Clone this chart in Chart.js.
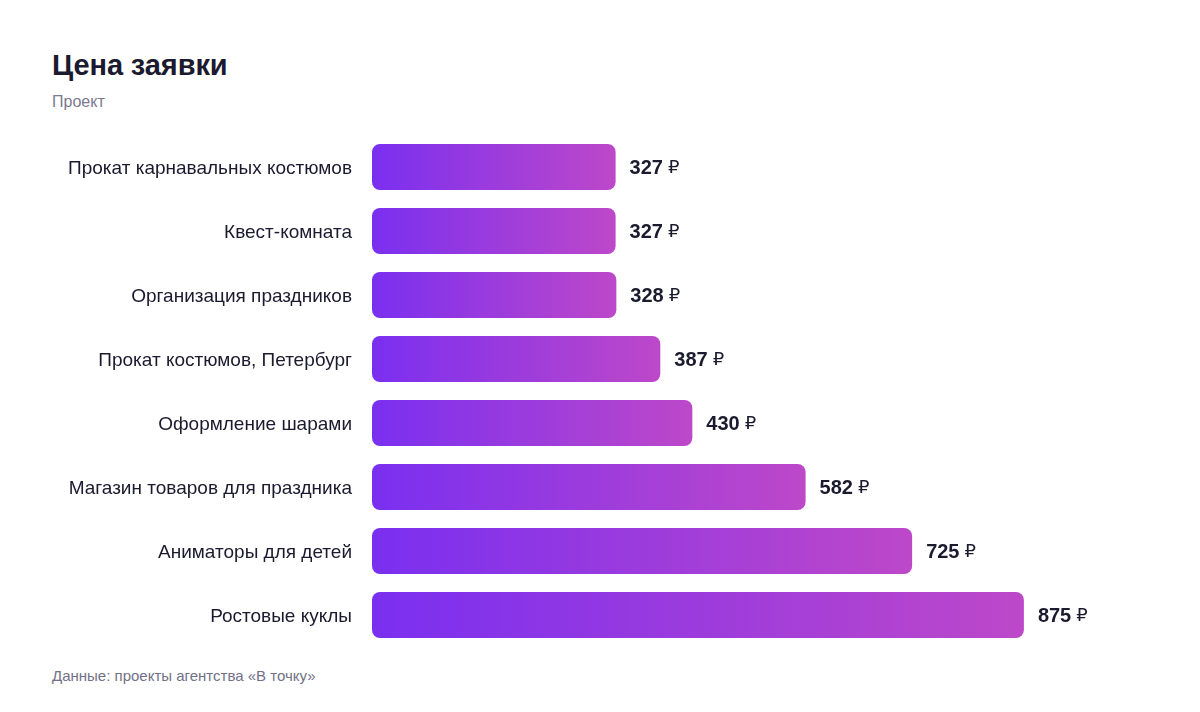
<!DOCTYPE html>
<html lang="ru">
<head>
<meta charset="utf-8">
<title>Цена заявки</title>
<script src="https://cdn.jsdelivr.net/npm/chart.js@4.4.1/dist/chart.umd.min.js"></script>
<style>
    html, body { margin: 0; padding: 0; background: #fff; }
    body { width: 1200px; height: 712px; position: relative; overflow: hidden; font-family: 'Liberation Sans', Arial, sans-serif; }
    .title { position: absolute; left: 52px; top: 49px; font-size: 29px; font-weight: 700; color: #1b1a2e; letter-spacing: -0.1px; }
    .subtitle { position: absolute; left: 52px; top: 93px; font-size: 16px; color: #7b7a8e; }
    .note { position: absolute; left: 52px; top: 667px; font-size: 15px; color: #727187; }
    #chart { position: absolute; left: 0; top: 135px; }
</style>
</head>
<body>
<div class="title">Цена заявки</div>
<div class="subtitle">Проект</div>
<canvas id="chart" width="1200" height="512"></canvas>
<div class="note">Данные: проекты агентства «В точку»</div>
<script>
// Values, top to bottom.
const categories = [
    'Прокат карнавальных костюмов',
    'Квест-комната',
    'Организация праздников',
    'Прокат костюмов, Петербург',
    'Оформление шарами',
    'Магазин товаров для праздника',
    'Аниматоры для детей',
    'Ростовые куклы',
];
const prices = [327, 327, 328, 387, 430, 582, 725, 875];
const currency = '₽';

const COLOR_START = '#7a2ff0';
const COLOR_END = '#bd48c9';
const TEXT = '#1b1a2e';
const FONT = "'Liberation Sans', Arial, sans-serif";

// Each bar gets its own left→right gradient, ending at the bar's own tip.
function barGradient(ctx) {
    const chart = ctx.chart;
    if (!chart.chartArea || ctx.type !== 'data') return COLOR_START;
    const x = chart.scales.x;
    const x0 = x.getPixelForValue(0);
    const x1 = x.getPixelForValue(ctx.raw);
    if (!isFinite(x0) || !isFinite(x1) || x1 <= x0) return COLOR_START;
    const g = chart.ctx.createLinearGradient(x0, 0, x1, 0);
    g.addColorStop(0, COLOR_START);
    g.addColorStop(1, COLOR_END);
    return g;
}

// Bold number + lighter ruble sign right of every bar.
const valueLabels = {
    id: 'valueLabels',
    afterDatasetsDraw(chart) {
        const ctx = chart.ctx;
        const meta = chart.getDatasetMeta(0);
        ctx.save();
        ctx.textBaseline = 'middle';
        ctx.textAlign = 'left';
        meta.data.forEach((bar, i) => {
            const num = String(prices[i]);
            let x = bar.x + 14;
            const y = bar.y + 1;
            ctx.fillStyle = TEXT;
            ctx.font = `700 20px ${FONT}`;
            ctx.fillText(num, x, y);
            x += ctx.measureText(num).width + 5;
            ctx.font = `400 18px 'DejaVu Sans', ${FONT}`;
            ctx.fillText(currency, x, y);
        });
        ctx.restore();
    },
};

new Chart(document.getElementById('chart'), {
    type: 'bar',
    data: {
        labels: categories,
        datasets: [{
            data: prices,
            backgroundColor: barGradient,
            borderRadius: 8,
            borderSkipped: false,
            barPercentage: 0.72,
            categoryPercentage: 1,
        }],
    },
    options: {
        indexAxis: 'y',
        responsive: false,
        maintainAspectRatio: false,
        animation: false,
        devicePixelRatio: 1,
        // no auto padding: tick padding would otherwise push the bars inward vertically
        layout: { autoPadding: false, padding: { left: 0, right: 83, top: 0, bottom: 0 } },
        plugins: { legend: { display: false }, tooltip: { enabled: false } },
        scales: {
            x: { display: false, min: 0, max: 1000 },
            y: {
                grid: { display: false, drawTicks: false },
                border: { display: false },
                ticks: { color: TEXT, padding: 20, labelOffset: 2, font: { family: FONT, size: 19 } },
                afterFit(scale) {
                    scale.width = 372;
                    scale.paddingTop = 0;
                    scale.paddingBottom = 0;
                },
            },
        },
    },
    plugins: [valueLabels],
});
</script>
</body>
</html>
